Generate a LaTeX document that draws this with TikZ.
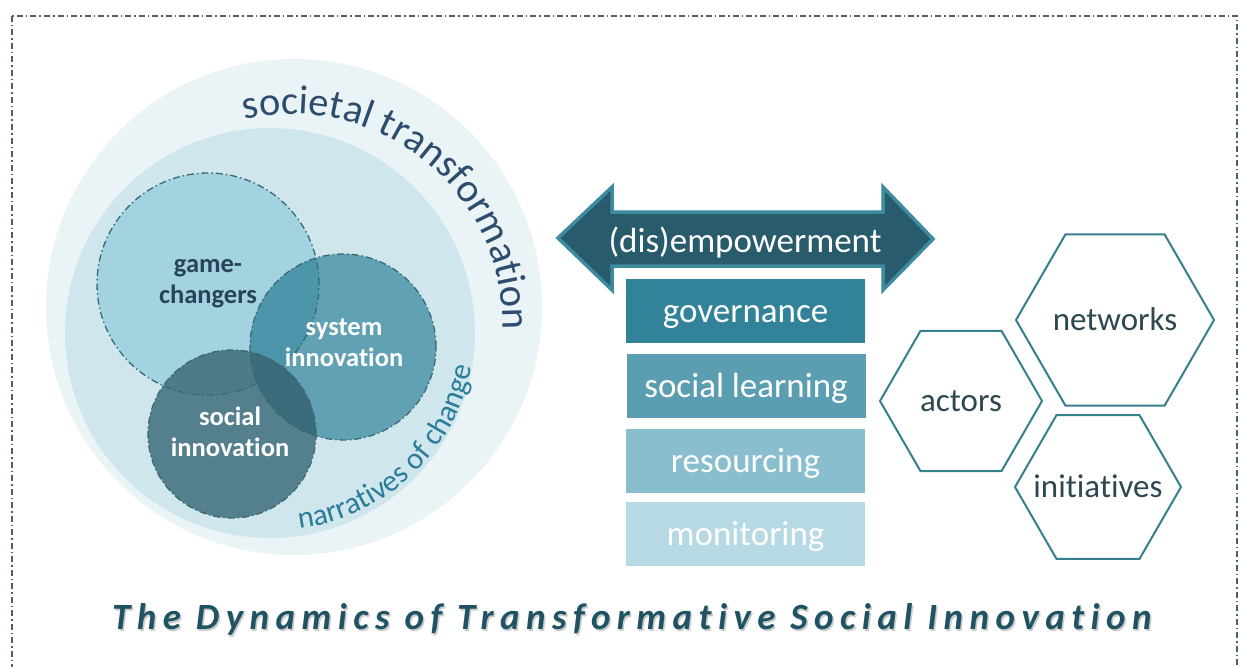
\documentclass[tikz,border=0pt]{standalone}
\usepackage{fontspec}
\setmainfont[Ligatures=NoCommon]{Carlito}
\newfontfamily\titlefont[LetterSpace=17.5,Ligatures=NoCommon]{Carlito}
\usetikzlibrary{decorations.text,shapes.geometric}
\definecolor{framec}{HTML}{4A626C}
\definecolor{outerc}{HTML}{EAF4F7}
\definecolor{innerc}{HTML}{CFE6ED}
\definecolor{gcc}{HTML}{A3D3E0}
\definecolor{sysc}{HTML}{60A1B4}
\definecolor{gcsys}{HTML}{4C95AB}
\definecolor{socc}{HTML}{547F8C}
\definecolor{socgc}{HTML}{4E7B88}
\definecolor{socsys}{HTML}{3A6C7B}
\definecolor{ddline}{HTML}{3C6775}
\definecolor{gctext}{HTML}{28445A}
\definecolor{stc}{HTML}{2E4D6E}
\definecolor{narc}{HTML}{2A7C99}
\definecolor{arrowfill}{HTML}{285B6B}
\definecolor{arrowborder}{HTML}{3E8A9E}
\definecolor{govc}{HTML}{32839A}
\definecolor{slc}{HTML}{5C9EB1}
\definecolor{resc}{HTML}{88BECE}
\definecolor{monc}{HTML}{B6D9E3}
\definecolor{hexline}{HTML}{35808F}
\definecolor{hextext}{HTML}{2E4750}
\definecolor{titlec}{HTML}{1F5364}
\newcommand{\hexlabel}[1]{\makebox[0pt][c]{#1}}
\tikzset{
  frame/.style={draw=framec, line width=1.2pt, dash pattern=on 6pt off 3pt on 1.5pt off 3pt},
  ddcirc/.style={draw=ddline, line width=1.3pt, dash pattern=on 7pt off 3pt on 1.5pt off 3pt},
  circtext/.style={align=center, font=\fontsize{26.5}{31}\selectfont\bfseries, inner sep=0pt},
  bar/.style={minimum width=239pt, minimum height=64pt, inner sep=0pt, text=white,
    font=\fontsize{35}{35}\selectfont, text height=22pt, text depth=0pt},
  hexa/.style={regular polygon, regular polygon sides=6, draw=hexline, line width=2pt,
    fill=white, inner sep=0pt, text=hextext, font=\fontsize{33}{33}\selectfont,
    text height=20pt, text depth=0pt},
  arrowshape/.style={fill=arrowfill, draw=arrowborder, line width=3.5pt, line join=miter},
  titlestyle/.style={anchor=base, font=\titlefont\fontsize{37}{40}\selectfont\bfseries\itshape},
}
\begin{document}
\begin{tikzpicture}[x=1pt,y=1pt]
\useasboundingbox (0,0) rectangle (1241,-666);
\fill[white] (0,0) rectangle (1241,-666);
\draw[frame] (12,-16) rectangle (1237,-700);

% big circles
\fill[outerc] (294,-307) circle[radius=248];
\fill[innerc] (270,-333) circle[radius=205];

% small circles
\fill[gcc] (208,-284) circle[radius=111];
\fill[sysc] (343,-347) circle[radius=93];
\begin{scope}
  \clip (208,-284) circle[radius=111];
  \fill[gcsys] (343,-347) circle[radius=93];
\end{scope}
\fill[socc] (232,-434) circle[radius=84];
\begin{scope}
  \clip (232,-434) circle[radius=84];
  \fill[socgc] (208,-284) circle[radius=111];
  \fill[socsys] (343,-347) circle[radius=93];
\end{scope}
\draw[ddcirc] (208,-284) circle[radius=111];
\draw[ddcirc] (343,-347) circle[radius=93];
\draw[ddcirc] (232,-434) circle[radius=84];

\node[circtext, text=gctext] (gc) at (208,-284) {game-\\changers};
\node[circtext, text=white] (sys) at (344,-343) {system\\innovation};
\node[circtext, text=white] (soc) at (230,-432) {social\\innovation};

% curved texts
\path[decorate, decoration={text along path, text color=stc,
  text={|\fontsize{40.5}{44}\selectfont|societal transformation}}]
  (292,-325) ++(103:211) arc[start angle=103, end angle=-40, radius=211];
\path[decorate, decoration={text along path, text color=narc,
  text={|\fontsize{30.5}{32}\selectfont|narratives of change}}]
  (275,-330) ++(-83:200) arc[start angle=-83, end angle=25, radius=200];

% double arrow
\draw[arrowshape] (558,-238) -- (612,-187) -- (612,-212) -- (883,-212) -- (883,-187)
  -- (933,-239) -- (883,-290) -- (883,-266) -- (612,-266) -- (612,-290) -- cycle;
\node[text=white, font=\fontsize{35}{35}\selectfont, text height=26pt, text depth=0pt, inner sep=0pt]
  (emp) at (745,-239) {(dis)empowerment};

% bars
\node[bar, fill=govc] (gov) at (745.5,-311) {governance};
\node[bar, fill=slc] (sl) at (746,-386) {social learning};
\node[bar, fill=resc] (res) at (745.5,-461) {resourcing};
\node[bar, fill=monc] (mon) at (745.5,-534) {monitoring};

% hexagons
\node[hexa, minimum size=198pt] (net) at (1115,-320) {\hexlabel{networks}};
\node[hexa, minimum size=162pt] (act) at (961,-401) {\hexlabel{actors}};
\node[hexa, minimum size=166pt] (ini) at (1098,-487) {\hexlabel{initiatives}};

% title
\node[titlestyle, text=black, opacity=0.2]
  (titleshadow) at (633.5,-631) {The Dynamics of Transformative Social Innovation};
\node[titlestyle, text=titlec]
  (title) at (632,-629) {The Dynamics of Transformative Social Innovation};
\end{tikzpicture}
\end{document}
